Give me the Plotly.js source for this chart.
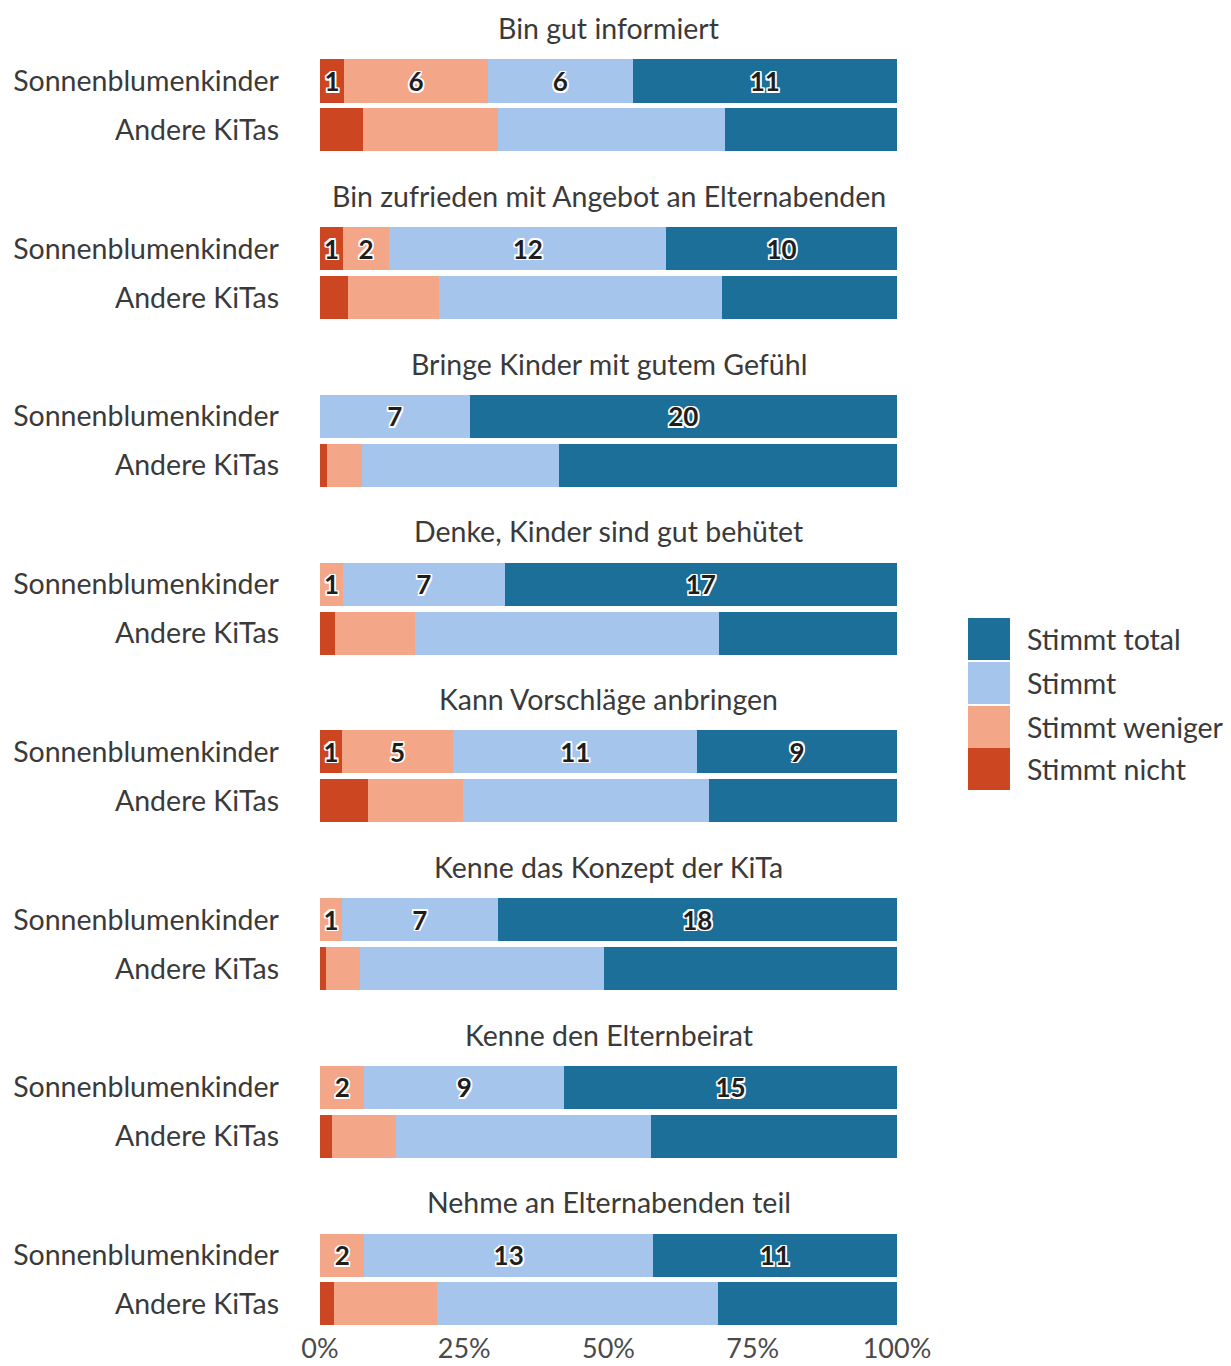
<!DOCTYPE html>
<html>
<head>
<meta charset="utf-8">
<script src="https://cdn.plot.ly/plotly-3.0.1.min.js"></script>
<style>html,body{margin:0;padding:0;background:#fff;}#chart{width:1231px;height:1366px;}</style>
</head>
<body>
<div id="chart"></div>
<script>
// ---- data ----
const groups = ["Bin gut informiert", "Bin zufrieden mit Angebot an Elternabenden", "Bringe Kinder mit gutem Gefühl", "Denke, Kinder sind gut behütet", "Kann Vorschläge anbringen", "Kenne das Konzept der KiTa", "Kenne den Elternbeirat", "Nehme an Elternabenden teil"];
const rowLabels = ["Sonnenblumenkinder", "Andere KiTas"];
const seriesNames = ["Stimmt nicht", "Stimmt weniger", "Stimmt", "Stimmt total"];
// Sonnenblumenkinder: counts (shown as labels)
const sonnenNicht   = [1, 1, 0, 0, 1, 0, 0, 0];
const sonnenWeniger = [6, 2, 0, 1, 5, 1, 2, 2];
const sonnenStimmt  = [6, 12, 7, 7, 11, 7, 9, 13];
const sonnenTotal   = [11, 10, 20, 17, 9, 18, 15, 11];
// Andere KiTas: percentages (estimated)
const andereNicht   = [7.5, 4.9, 1.2, 2.6, 8.3, 1.0, 2.1, 2.4];
const andereWeniger = [23.4, 15.8, 6.1, 13.9, 16.5, 5.9, 11.1, 17.8];
const andereStimmt  = [39.3, 48.9, 34.1, 52.7, 42.6, 42.3, 44.2, 48.7];
const andereTotal   = [29.8, 30.4, 58.6, 30.8, 32.6, 50.8, 42.6, 31.1];
const xTicks = [0, 25, 50, 75, 100];

const colors = ["#cd4622", "#f4a688", "#a6c5ec", "#1c6f98"];
const FONT = "Lato, 'Open Sans', sans-serif";
const TXT = "#3a3a3a";

// ---- layout geometry ----
const D = 3.43;       // group spacing (y units)
const sonnenSets = [sonnenNicht, sonnenWeniger, sonnenStimmt, sonnenTotal];
const andereSets = [andereNicht, andereWeniger, andereStimmt, andereTotal];

const tickvals = [], ticktext = [];
groups.forEach((g, i) => {
  tickvals.push(i * D, i * D + 1);
  ticktext.push(rowLabels[0], rowLabels[1]);
});

const traces = seriesNames.map((name, s) => {
  const x = [], y = [], text = [];
  groups.forEach((g, i) => {
    x.push(sonnenSets[s][i]); y.push(i * D); text.push(sonnenSets[s][i] ? String(sonnenSets[s][i]) : "");
    x.push(andereSets[s][i]); y.push(i * D + 1); text.push("");
  });
  return {
    type: "bar", orientation: "h", name: name,
    x: x, y: y, text: text, width: 0.88,
    marker: {color: colors[s], line: {width: 0}},
    textposition: "inside", insidetextanchor: "middle", textangle: 0,
    constraintext: "none",
    textfont: {family: FONT, size: 26, color: "#1e1e1e", weight: 700,
      shadow: "-1.5px -1.5px 0 #fff, 1.5px -1.5px 0 #fff, -1.5px 1.5px 0 #fff, 1.5px 1.5px 0 #fff, 0 1.5px 0 #fff, 0 -1.5px 0 #fff, 1.5px 0 0 #fff, -1.5px 0 0 #fff"},
    hoverinfo: "skip", showlegend: false
  };
});

const T = 5, B = 1325, u = 48.9;
const yTop = (T - 81) / u;
const yBot = yTop + (B - T) / u;

const annotations = groups.map((g, i) => ({
  text: g, xref: "paper", x: 0.5, yref: "y", y: i * D - 1.08,
  showarrow: false, xanchor: "center", yanchor: "middle",
  font: {family: FONT, size: 28.5, color: TXT}
}));

// legend (manual, large swatches)
const shapes = [];
const legendOrder = [3, 2, 1, 0];
const legTop = [618, 662, 706, 748];
const pw = 577, ph = B - T;
legendOrder.forEach((s, k) => {
  const y0 = legTop[k], y1 = y0 + 42;
  shapes.push({type: "rect", xref: "paper", yref: "paper",
    x0: (968 - 320) / pw, x1: (1010 - 320) / pw,
    y0: (B - y1) / ph, y1: (B - y0) / ph,
    fillcolor: colors[s], line: {width: 0}});
  annotations.push({text: seriesNames[s], xref: "paper", yref: "paper",
    x: (1025 - 320) / pw, y: (B - (y0 + 21)) / ph, xanchor: "left", yanchor: "middle",
    showarrow: false, font: {family: FONT, size: 28.5, color: TXT}});
});

const layout = {
  width: 1231, height: 1366,
  margin: {l: 320, r: 334, t: T, b: 1366 - B},
  paper_bgcolor: "#fff", plot_bgcolor: "#fff",
  barmode: "stack", barnorm: "percent",
  showlegend: false,
  xaxis: {range: [0, 100], tickvals: xTicks, ticktext: xTicks.map(v => v + "%"),
    showgrid: false, zeroline: false, showline: false, ticks: "",
    ticklabelstandoff: 5,
    tickfont: {family: FONT, size: 27, color: "#4a4a4a"}, fixedrange: true},
  yaxis: {range: [yBot, yTop], tickvals: tickvals, ticktext: ticktext,
    showgrid: false, zeroline: false, showline: false, ticks: "",
    ticklabelstandoff: 40,
    tickfont: {family: FONT, size: 28.5, color: TXT}, fixedrange: true},
  annotations: annotations, shapes: shapes
};

Plotly.newPlot("chart", traces, layout, {displayModeBar: false, staticPlot: true});
</script>
</body>
</html>
